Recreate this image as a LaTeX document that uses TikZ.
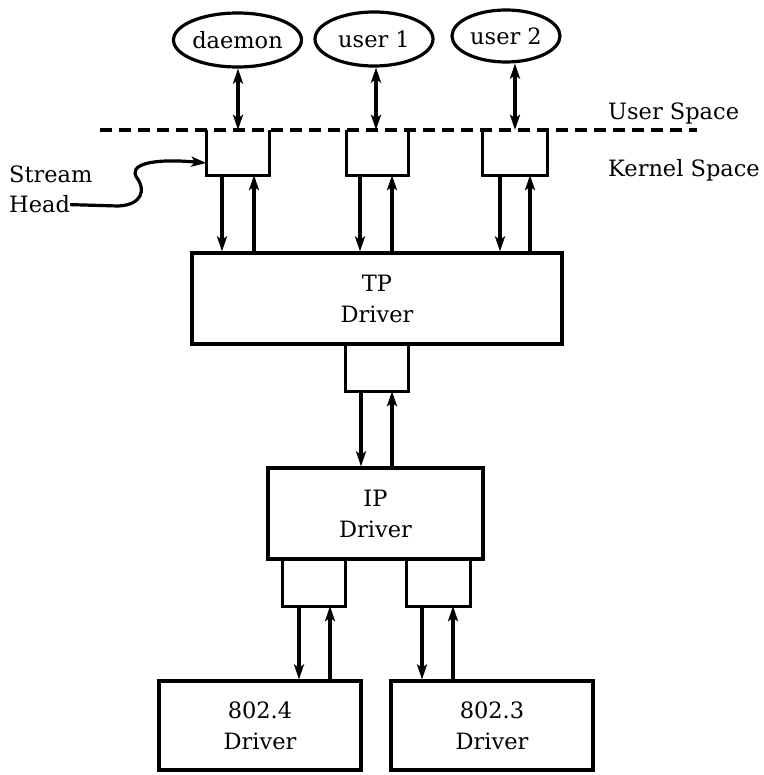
\documentclass[tikz,border=0pt]{standalone}
\usepackage{fontspec}
\setmainfont{DejaVu Serif}
\usetikzlibrary{shapes.geometric,arrows.meta}
\begin{document}
\begin{tikzpicture}[x=1pt,y=-1pt,
  lw/.style={line width=3.2pt},
  ell/.style={ellipse,draw,lw,inner sep=0pt,font=\fontsize{22.5}{31}\selectfont},
  drv/.style={rectangle,draw,lw,inner sep=0pt,align=center,font=\fontsize{22.5}{31}\selectfont},
  openbox/.style={rectangle,inner sep=0pt,minimum height=47pt},
  lbl/.style={inner sep=0pt,anchor=base west,font=\fontsize{22.5}{31}\selectfont},
  arr/.style={lw,-{Stealth[length=15pt,width=10pt,inset=3.5pt]}},
  darr/.style={lw,{Stealth[length=15pt,width=10pt,inset=3.5pt]}-{Stealth[length=15pt,width=10pt,inset=3.5pt]}}
]
\useasboundingbox (0,0) rectangle (763,775);

% user processes
\node[ell,minimum width=127pt,minimum height=54pt] (daemon) at (237.5,40) {daemon};
\node[ell,minimum width=118pt,minimum height=54pt] (user1) at (374,39) {user 1};
\node[ell,minimum width=108pt,minimum height=52pt] (user2) at (506,36) {user 2};

% user/kernel boundary
\coordinate (dl) at (100,130);
\coordinate (dr) at (697,130);
\draw[lw,dash pattern=on 12pt off 7pt] (dl) -- (dr);
\node[lbl] (us) at (608,120) {User Space};
\node[lbl] (ks) at (608,177) {Kernel Space};

% stream heads
\node[openbox,minimum width=63pt,minimum height=45pt] (sh1) at (238,152.5) {};
\node[openbox,minimum width=61pt,minimum height=45pt] (sh2) at (377.5,152.5) {};
\node[openbox,minimum width=64pt,minimum height=45pt] (sh3) at (515,152.5) {};
\foreach \b in {sh1,sh2,sh3}
  \draw[lw,line join=miter] (\b.north west) |- (\b.south east) -- (\b.north east);

% double arrows processes <-> stream heads
\draw[darr] (daemon.south -| 238,0) -- (sh1.north -| 238,0);
\draw[darr] (user1.south -| 376,0) -- (sh2.north -| 376,0);
\draw[darr] (user2.south -| 515,0) -- (sh3.north -| 515,0);

% TP driver
\node[drv,minimum width=370pt,minimum height=91pt] (tp) at (377,298.5) {TP\\Driver};
\draw[arr] (sh1.south -| 222,0) -- (tp.north -| 222,0);
\draw[arr] (tp.north -| 254,0) -- (sh1.south -| 254,0);
\draw[arr] (sh2.south -| 360,0) -- (tp.north -| 360,0);
\draw[arr] (tp.north -| 392,0) -- (sh2.south -| 392,0);
\draw[arr] (sh3.south -| 500,0) -- (tp.north -| 500,0);
\draw[arr] (tp.north -| 530,0) -- (sh3.south -| 530,0);

% TP lower queue
\node[openbox,minimum width=62pt] (tpq) at (377,367.5) {};
\draw[lw,line join=miter] (tpq.north west) |- (tpq.south east) -- (tpq.north east);

% IP driver
\node[drv,minimum width=215pt,minimum height=91pt] (ip) at (375.5,513.5) {IP\\Driver};
\draw[arr] (tpq.south -| 361,0) -- (ip.north -| 361,0);
\draw[arr] (ip.north -| 392,0) -- (tpq.south -| 392,0);

% IP lower queues
\node[openbox,minimum width=62pt] (ipa) at (314,582.5) {};
\node[openbox,minimum width=63pt] (ipb) at (438.5,582.5) {};
\foreach \b in {ipa,ipb}
  \draw[lw,line join=miter] (\b.north west) |- (\b.south east) -- (\b.north east);

% device drivers
\node[drv,minimum width=202pt,minimum height=89pt] (d4) at (260,725.5) {802.4\\Driver};
\node[drv,minimum width=202pt,minimum height=89pt] (d3) at (492,725.5) {802.3\\Driver};
\draw[arr] (ipa.south -| 299,0) -- (d4.north -| 299,0);
\draw[arr] (d4.north -| 330,0) -- (ipa.south -| 330,0);
\draw[arr] (ipb.south -| 422,0) -- (d3.north -| 422,0);
\draw[arr] (d3.north -| 453,0) -- (ipb.south -| 453,0);

% stream head label
\node[lbl] (stream) at (9,183) {Stream};
\node[lbl] (head) at (9,213) {Head};
\draw[arr] (head.east) -- (118,206) .. controls (142,205) and (146,190) .. (137,178)
  .. controls (128,165) and (150,158) .. (sh1.west |- 0,163);
\end{tikzpicture}
\end{document}
